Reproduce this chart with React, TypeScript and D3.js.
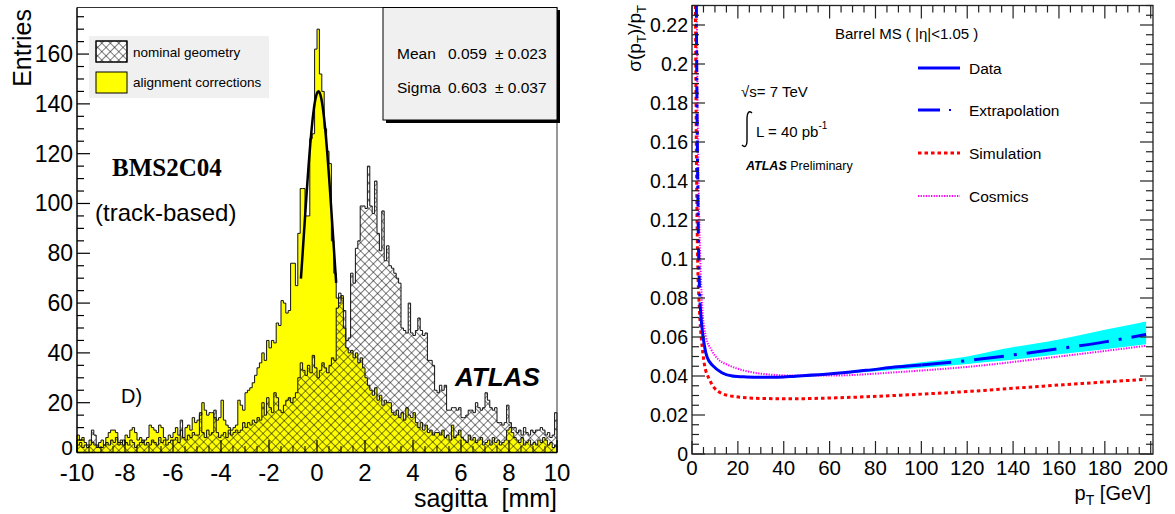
import React from 'react';
import * as d3 from 'd3';

// ---------------- Left panel data (sagitta histogram, bins of 0.1 mm from -10 to 10) ----------------
const sagittaMin = -10;
const sagittaMax = 10;
const binWidth = 0.1;

const alignmentCorrections = [
  7, 5, 6, 4, 3, 5, 4, 3, 2, 4,
  5, 3, 6, 8, 9, 9, 8, 4, 5, 3,
  7, 6, 9, 10, 8, 5, 6, 4, 5, 6,
  11, 10, 9, 8, 11, 10, 6, 5, 7, 6,
  8, 10, 7, 9, 6, 10, 11, 9, 14, 12,
  13, 15, 20, 17, 15, 16, 16, 14, 13, 14,
  21, 13, 11, 10, 9, 10, 11, 21, 19, 17,
  24, 25, 26, 28, 31, 34, 36, 40, 37, 45,
  42, 45, 44, 52, 51, 61, 60, 56, 57, 76,
  76, 67, 88, 106, 106, 95, 95, 126, 128, 162,
  170, 152, 145, 130, 121, 116, 85, 72, 62, 60,
  63, 50, 42, 40, 41, 38, 40, 36, 38, 34,
  30, 27, 25, 23, 26, 21, 23, 19, 21, 20,
  20, 16, 15, 17, 14, 16, 13, 18, 15, 14,
  16, 12, 10, 12, 9, 11, 8, 9, 7, 8,
  8, 7, 9, 6, 7, 5, 11, 6, 7, 9,
  6, 5, 4, 7, 5, 6, 4, 5, 6, 3,
  4, 5, 3, 6, 4, 5, 3, 4, 5, 9,
  10, 8, 6, 5, 4, 6, 3, 4, 5, 3,
  4, 3, 5, 4, 6, 5, 3, 4, 2, 3,
];

const nominalGeometry = [
  3, 4, 2, 3, 2, 3, 9, 7, 3, 2,
  2, 3, 4, 3, 5, 4, 6, 3, 4, 5,
  4, 3, 5, 4, 2, 3, 4, 5, 3, 4,
  3, 5, 4, 3, 6, 4, 5, 3, 4, 5,
  5, 6, 4, 13, 6, 5, 7, 6, 8, 7,
  7, 16, 8, 6, 9, 7, 8, 17, 8, 6,
  7, 8, 6, 9, 7, 8, 9, 8, 9, 12,
  10, 12, 11, 13, 12, 14, 13, 20, 15, 22,
  18, 16, 24, 22, 17, 16, 19, 21, 22, 20,
  22, 24, 30, 36, 33, 31, 35, 32, 39, 34,
  30, 33, 36, 34, 32, 35, 38, 37, 58, 64,
  62, 57, 45, 46, 72, 68, 82, 85, 99, 99,
  98, 115, 99, 96, 109, 88, 81, 97, 77, 83,
  75, 74, 72, 70, 68, 50, 49, 48, 60, 48,
  47, 49, 54, 49, 47, 48, 37, 37, 35, 25,
  24, 27, 25, 27, 17, 17, 18, 18, 17, 18,
  14, 14, 15, 17, 17, 16, 20, 18, 17, 18,
  24, 21, 18, 17, 18, 12, 12, 11, 12, 19,
  12, 10, 10, 8, 9, 7, 10, 8, 7, 9,
  8, 9, 9, 10, 9, 7, 8, 6, 7, 16,
];

// Gaussian fit (values from the stats box)
const fitAmplitude = 145;
const fitMean = 0.059;
const fitSigma = 0.603;
const fitRange = [-0.67, 0.8];

const leftXTicks = [-10, -8, -6, -4, -2, 0, 2, 4, 6, 8, 10];
const leftYTicks = [0, 20, 40, 60, 80, 100, 120, 140, 160];
const statsLines = [
  { name: 'Mean', value: '0.059', err: '± 0.023' },
  { name: 'Sigma', value: '0.603', err: '± 0.037' },
];
const leftLegend = ['nominal geometry', 'alignment corrections'];

// ---------------- Right panel data (sigma(pT)/pT vs pT) ----------------
const dataPt = [3.5, 4.1, 5.4, 6.6, 9.2, 13, 17.7, 23.8, 30, 37.6, 45, 60.7, 76, 90, 100];
const dataRes = [0.0774, 0.0678, 0.0557, 0.0496, 0.0452, 0.0417, 0.04, 0.0395, 0.0393, 0.0394, 0.0399, 0.0411, 0.0429, 0.0447, 0.0457];

const extrapLowPt = [1.9, 2.1, 2.4, 2.7, 3.0, 3.5];
const extrapLowRes = [0.23, 0.19, 0.15, 0.118, 0.097, 0.0774];
const extrapHighPt = [100, 120, 140, 160, 180, 198];
const extrapHighRes = [0.0457, 0.0479, 0.0508, 0.054, 0.0575, 0.0613];

const bandPt = [4, 6, 10, 20, 40, 60, 80, 100, 120, 135, 160, 180, 198];
const bandLow = [0.066, 0.05, 0.0435, 0.039, 0.039, 0.0406, 0.0424, 0.0442, 0.0462, 0.0478, 0.0512, 0.0537, 0.0563];
const bandHigh = [0.069, 0.052, 0.045, 0.04, 0.0398, 0.0416, 0.044, 0.047, 0.05, 0.0537, 0.0587, 0.0637, 0.068];

const simPt = [1.5, 1.7, 1.9, 2.2, 2.6, 3.0, 3.5, 4.1, 5.4, 7.7, 11.5, 17.7, 30, 42, 60, 90, 122, 153, 198];
const simRes = [0.23, 0.19, 0.155, 0.12, 0.092, 0.08, 0.068, 0.059, 0.046, 0.038, 0.032, 0.0296, 0.0285, 0.0283, 0.0287, 0.0301, 0.0322, 0.0348, 0.0383];

const cosPt = [2.1, 2.3, 2.6, 3.0, 3.5, 4.0, 4.6, 6.1, 8.4, 11.5, 16, 22, 30, 45, 60, 91, 122, 153, 198];
const cosRes = [0.23, 0.195, 0.16, 0.13, 0.104, 0.087, 0.073, 0.06, 0.0535, 0.0485, 0.0455, 0.043, 0.0412, 0.0402, 0.0402, 0.0421, 0.0449, 0.049, 0.0555];

const rightXTicks = [0, 20, 40, 60, 80, 100, 120, 140, 160, 180, 200];
const rightYTicks = [0, 0.02, 0.04, 0.06, 0.08, 0.1, 0.12, 0.14, 0.16, 0.18, 0.2, 0.22];
const rightLegend = ['Data', 'Extrapolation', 'Simulation', 'Cosmics'];

const SANS = '"Liberation Sans", Arial, Helvetica, sans-serif';
const SERIF = '"Liberation Serif", "Times New Roman", serif';

export default function App() {
  // ---- left scales
  const xL = d3.scaleLinear().domain([sagittaMin, sagittaMax]).range([77, 557]);
  const yL = d3.scaleLinear().domain([0, 178.7]).range([452.5, 7.5]);

  const stepPath = (vals: number[]) => {
    let d = `M${xL(sagittaMin)},${yL(0)}`;
    vals.forEach((v, i) => {
      const a = xL(sagittaMin + i * binWidth);
      const b = xL(sagittaMin + (i + 1) * binWidth);
      d += `L${a},${yL(v)}L${b},${yL(v)}`;
    });
    d += `L${xL(sagittaMax)},${yL(0)}Z`;
    return d;
  };

  const fitPts = d3.range(0, 61).map((k) => {
    const s = fitRange[0] + ((fitRange[1] - fitRange[0]) * k) / 60;
    return [s, fitAmplitude * Math.exp(-0.5 * ((s - fitMean) / fitSigma) ** 2)] as [number, number];
  });
  const fitLine = d3.line<[number, number]>().x((p) => xL(p[0])).y((p) => yL(p[1]));

  const leftMinorY = d3.range(0, 180, 5).filter((v) => v % 20 !== 0);
  const leftMinorX = d3.range(-10, 10.01, 0.5).filter((v) => Math.abs(v % 2) > 1e-6);

  // ---- right scales
  const xR = d3.scaleLinear().domain([0, 201]).range([692, 1153]);
  const yR = d3.scaleLinear().domain([0, 0.23]).range([454, 5.5]);
  const curve = (xs: number[], ys: number[]) =>
    d3
      .line<number>()
      .x((_, i) => xR(xs[i]))
      .y((v) => yR(v))
      .curve(d3.curveMonotoneX)(ys) as string;
  const bandPath = d3
    .area<number>()
    .x((_, i) => xR(bandPt[i]))
    .y0((_, i) => yR(bandLow[i]))
    .y1((_, i) => yR(bandHigh[i]))
    .curve(d3.curveMonotoneX)(bandPt) as string;

  const rMinorX = d3.range(0, 201, 5).filter((v) => v % 20 !== 0);
  const rMinorY = d3.range(0, 0.2301, 0.005).filter((v) => Math.abs(Math.round(v * 1000) % 20) !== 0);
  const fmtR = (v: number) => (v === 0 ? '0' : String(+v.toFixed(2)));

  const legendY = [68, 110, 153, 196];

  return (
    <svg width={1175} height={514} style={{ display: 'block', position: 'absolute', left: 0, top: 0, background: '#fff' }}>
      <defs>
        <pattern id="hatch" patternUnits="userSpaceOnUse" width={6} height={6} patternTransform="rotate(45)">
          <line x1={0} y1={0} x2={6} y2={0} stroke="#000" strokeWidth={1} />
          <line x1={0} y1={0} x2={0} y2={6} stroke="#000" strokeWidth={1} />
        </pattern>
        <clipPath id="clipR">
          <rect x={692} y={5.5} width={461} height={448.5} />
        </clipPath>
      </defs>

      {/* ================= LEFT PANEL ================= */}
      <g>
        <path d={stepPath(alignmentCorrections)} fill="#ffff00" stroke="#111" strokeWidth={1} />
        <path d={stepPath(nominalGeometry)} fill="url(#hatch)" stroke="#111" strokeWidth={1} />
        <path d={fitLine(fitPts) as string} fill="none" stroke="#000" strokeWidth={2.5} />

        {/* frame */}
        <line x1={77} y1={7.5} x2={557} y2={7.5} stroke="#333" strokeWidth={1} />
        <line x1={557} y1={7.5} x2={557} y2={452.5} stroke="#333" strokeWidth={1} />
        <line x1={77} y1={7.5} x2={77} y2={452.5} stroke="#000" strokeWidth={1.5} />
        <line x1={77} y1={452.5} x2={557} y2={452.5} stroke="#000" strokeWidth={1.5} />

        {leftYTicks.map((v) => (
          <line key={'ly' + v} x1={77} x2={90} y1={yL(v)} y2={yL(v)} stroke="#000" strokeWidth={1.2} />
        ))}
        {leftMinorY.map((v) => (
          <line key={'lym' + v} x1={77} x2={84} y1={yL(v)} y2={yL(v)} stroke="#000" strokeWidth={1.2} />
        ))}
        {leftXTicks.map((v) => (
          <line key={'lx' + v} x1={xL(v)} x2={xL(v)} y1={452.5} y2={440} stroke="#000" strokeWidth={1.2} />
        ))}
        {leftMinorX.map((v) => (
          <line key={'lxm' + v} x1={xL(v)} x2={xL(v)} y1={452.5} y2={446} stroke="#000" strokeWidth={1} />
        ))}

        {leftYTicks.map((v) => (
          <text key={'lyt' + v} x={73} y={v === 0 ? 454.5 : yL(v) + 8} textAnchor="end" fontFamily={SANS} fontSize={v === 0 ? 21 : 23}>
            {v}
          </text>
        ))}
        {leftXTicks.map((v) => (
          <text key={'lxt' + v} x={xL(v)} y={481} textAnchor="middle" fontFamily={SANS} fontSize={24}>
            {v}
          </text>
        ))}
        <text x={557} y={507} textAnchor="end" fontFamily={SANS} fontSize={25} style={{ whiteSpace: 'pre' }}>
          {'sagitta  [mm]'}
        </text>
        <text transform="translate(31,9) rotate(-90)" textAnchor="end" fontFamily={SANS} fontSize={25}>
          Entries
        </text>

        {/* legend */}
        <rect x={89} y={36} width={180} height={62} fill="#f0f0f0" />
        <rect x={96} y={41} width={31} height={21} fill="#fff" stroke="#000" strokeWidth={1} />
        <rect x={96} y={41} width={31} height={21} fill="url(#hatch)" stroke="#000" strokeWidth={1} />
        <rect x={96} y={72} width={31} height={21} fill="#ffff00" stroke="#000" strokeWidth={1} />
        <text x={133} y={57} fontFamily={SANS} fontSize={13.5}>
          {leftLegend[0]}
        </text>
        <text x={133} y={87} fontFamily={SANS} fontSize={13.5}>
          {leftLegend[1]}
        </text>

        {/* stats box */}
        <rect x={386} y={10} width={174} height={113} fill="#000" />
        <rect x={383} y={7.5} width={174} height={112.5} fill="#f0f0f0" stroke="#000" strokeWidth={1} />
        {statsLines.map((s, i) => (
          <g key={s.name} fontFamily={SANS} fontSize={15.5}>
            <text x={397} y={59 + i * 34}>{s.name}</text>
            <text x={448} y={59 + i * 34}>{s.value}</text>
            <text x={495} y={59 + i * 34}>{s.err}</text>
          </g>
        ))}

        <text x={112} y={176} fontFamily={SERIF} fontWeight="bold" fontSize={25}>
          BMS2C04
        </text>
        <text x={95} y={221} fontFamily={SANS} fontSize={24}>
          (track-based)
        </text>
        <text x={121} y={403} fontFamily={SANS} fontSize={20}>
          D)
        </text>
        <text x={455} y={386} fontFamily={SANS} fontWeight="bold" fontStyle="italic" fontSize={26}>
          ATLAS
        </text>
      </g>

      {/* ================= RIGHT PANEL ================= */}
      <g>
        <g clipPath="url(#clipR)">
          <path d={bandPath} fill="#00ffff" />
          <path d={curve(cosPt, cosRes)} fill="none" stroke="#ff00ff" strokeWidth={2} strokeDasharray="1.3,1.3" />
          <path d={curve(simPt, simRes)} fill="none" stroke="#ff0000" strokeWidth={3} strokeDasharray="3.5,3" />
          <path d={curve(extrapLowPt, extrapLowRes)} fill="none" stroke="#0000ff" strokeWidth={3} strokeDasharray="12,6,3,6" />
          <path d={curve(dataPt, dataRes)} fill="none" stroke="#0000ff" strokeWidth={3} />
          <path d={curve(extrapHighPt, extrapHighRes)} fill="none" stroke="#0000ff" strokeWidth={3} strokeDasharray="30,10,3,10" />
        </g>

        {/* frame */}
        <rect x={692} y={5.5} width={461} height={448.5} fill="none" stroke="#222" strokeWidth={1.3} />
        {rightXTicks.map((v) => (
          <g key={'rx' + v}>
            <line x1={xR(v)} x2={xR(v)} y1={454} y2={441} stroke="#222" strokeWidth={1.2} />
            <line x1={xR(v)} x2={xR(v)} y1={5.5} y2={18.5} stroke="#222" strokeWidth={1.2} />
          </g>
        ))}
        {rMinorX.map((v) => (
          <g key={'rxm' + v}>
            <line x1={xR(v)} x2={xR(v)} y1={454} y2={447} stroke="#222" strokeWidth={1.2} />
            <line x1={xR(v)} x2={xR(v)} y1={5.5} y2={12.5} stroke="#222" strokeWidth={1.2} />
          </g>
        ))}
        {rightYTicks.map((v) => (
          <g key={'ry' + v}>
            <line x1={692} x2={705} y1={yR(v)} y2={yR(v)} stroke="#222" strokeWidth={1.2} />
            <line x1={1153} x2={1140} y1={yR(v)} y2={yR(v)} stroke="#222" strokeWidth={1.2} />
          </g>
        ))}
        {rMinorY.map((v) => (
          <g key={'rym' + v}>
            <line x1={692} x2={699} y1={yR(v)} y2={yR(v)} stroke="#222" strokeWidth={1.2} />
            <line x1={1153} x2={1146} y1={yR(v)} y2={yR(v)} stroke="#222" strokeWidth={1.2} />
          </g>
        ))}

        {rightYTicks.map((v) => (
          <text key={'ryt' + v} x={688} y={yR(v) + 7} textAnchor="end" fontFamily={SANS} fontSize={19.5}>
            {fmtR(v)}
          </text>
        ))}
        {rightXTicks.map((v) => (
          <text key={'rxt' + v} x={xR(v)} y={475} textAnchor="middle" fontFamily={SANS} fontSize={20.5}>
            {v}
          </text>
        ))}
        <text x={1151} y={500} textAnchor="end" fontFamily={SANS} fontSize={20}>
          p<tspan dy={5} fontSize={14}>T</tspan>
          <tspan dy={-5}> [GeV]</tspan>
        </text>
        <text transform="translate(641,5) rotate(-90)" textAnchor="end" fontFamily={SANS} fontSize={19}>
          σ(p<tspan dy={5} fontSize={13}>T</tspan>
          <tspan dy={-5}>)/p</tspan>
          <tspan dy={5} fontSize={13}>T</tspan>
        </text>

        <text x={835} y={39} fontFamily={SANS} fontSize={15}>
          Barrel MS ( |η|&lt;1.05 )
        </text>

        {/* legend */}
        <line x1={918} x2={960} y1={legendY[0]} y2={legendY[0]} stroke="#0000ff" strokeWidth={3} />
        <line x1={918} x2={940} y1={legendY[1]} y2={legendY[1]} stroke="#0000ff" strokeWidth={3} />
        <line x1={949} x2={951} y1={legendY[1]} y2={legendY[1]} stroke="#0000ff" strokeWidth={2} />
        <line x1={918} x2={960} y1={legendY[2]} y2={legendY[2]} stroke="#ff0000" strokeWidth={3} strokeDasharray="3.5,3" />
        <line x1={918} x2={960} y1={legendY[3]} y2={legendY[3]} stroke="#ff00ff" strokeWidth={2} strokeDasharray="1.3,1.3" />
        {rightLegend.map((t, i) => (
          <text key={t} x={969} y={legendY[i] + 6} fontFamily={SANS} fontSize={15.5}>
            {t}
          </text>
        ))}

        <text x={741} y={97} fontFamily={SANS} fontSize={15}>
          √s= 7 TeV
        </text>
        <path d="M752,113 C749,110 747,113 747,118 L747,141 C747,146 745,148 742,145" fill="none" stroke="#000" strokeWidth={1.4} />
        <text x={756} y={137} fontFamily={SANS} fontSize={15}>
          L = 40 pb<tspan dy={-8} fontSize={10}>-1</tspan>
        </text>
        <text x={746} y={170} fontFamily={SANS} fontSize={12.5}>
          <tspan fontWeight="bold" fontStyle="italic">ATLAS</tspan> Preliminary
        </text>
      </g>
    </svg>
  );
}
